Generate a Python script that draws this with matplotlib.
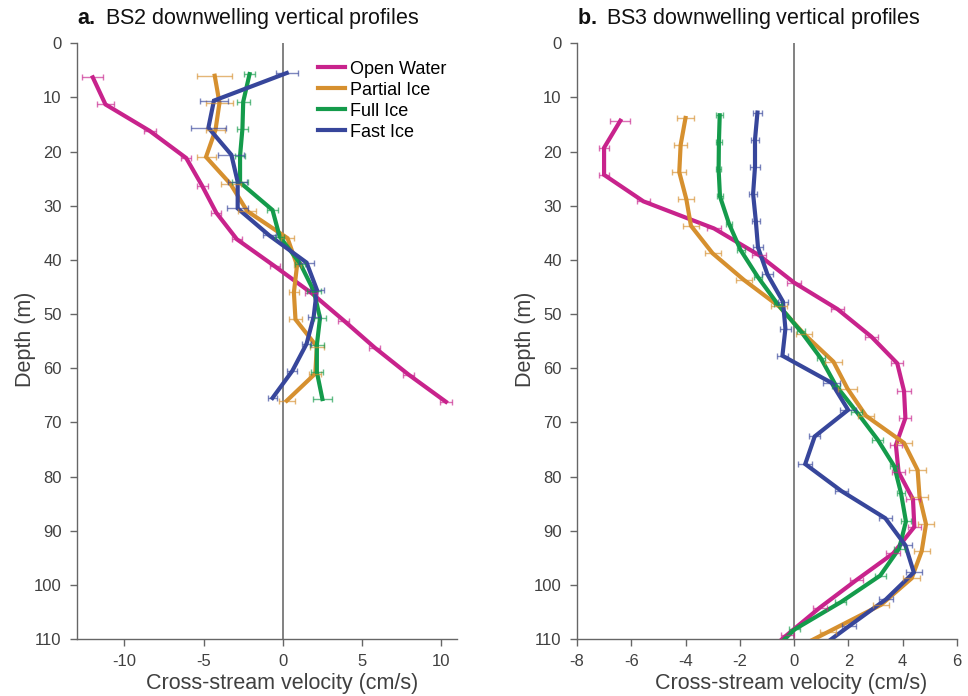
import numpy as np
import matplotlib
matplotlib.use("Agg")
import matplotlib.pyplot as plt

plt.rcParams['font.family'] = ['Liberation Sans', 'DejaVu Sans']
plt.rcParams['mathtext.fontset'] = 'custom'
plt.rcParams['mathtext.rm'] = 'Liberation Sans'
plt.rcParams['mathtext.bf'] = 'Liberation Sans:bold'
plt.rcParams['axes.unicode_minus'] = False

# Ice regimes and their colours
regimes = ["Open Water", "Partial Ice", "Full Ice", "Fast Ice"]
colors = ["#C8238C", "#D6902F", "#149B4B", "#37469B"]

# BS2 profiles: depth (m), cross-stream velocity (cm/s), error (cm/s)
bs2_depth_ow = [6.3, 11.3, 16.2, 21.2, 26.3, 31.3, 36.2, 41.2, 46.1, 51.2, 56.2, 61.2, 66.2]
bs2_depth_pi = [6.0, 11.0, 16.0, 21.0, 26.0, 31.0, 36.0, 41.0, 46.0, 51.0, 56.0, 61.0, 66.0]
bs2_depth_fi = [5.7, 10.8, 15.8, 20.8, 25.7, 30.8, 35.7, 40.7, 45.7, 50.7, 55.7, 60.7, 65.7]
bs2_depth_fa = [5.5, 10.6, 15.6, 20.6, 25.6, 30.5, 35.5, 40.5, 45.5, 50.5, 55.5, 60.5, 65.5]

bs2_vel_ow = [-12.0, -11.2, -8.4, -6.1, -5.1, -4.2, -2.9, -0.5, 1.8, 3.85, 5.8, 7.95, 10.3]
bs2_vel_pi = [-4.3, -4.0, -4.25, -4.85, -3.3, -2.25, 0.3, 0.9, 0.7, 0.8, 2.15, 2.05, 0.25]
bs2_vel_fi = [-2.1, -2.5, -2.55, -2.7, -2.7, -0.65, -0.2, 1.1, 1.95, 2.35, 2.15, 2.15, 2.5]
bs2_vel_fa = [0.25, -4.35, -4.7, -3.25, -2.85, -2.85, -0.85, 1.5, 2.15, 1.95, 1.5, 0.6, -0.65]

bs2_err_ow = [0.66, 0.52, 0.39, 0.32, 0.35, 0.32, 0.3, 0.32, 0.37, 0.35, 0.35, 0.35, 0.37]
bs2_err_pi = [1.1, 0.87, 0.63, 0.6, 0.63, 0.56, 0.4, 0.22, 0.31, 0.42, 0.44, 0.39, 0.52]
bs2_err_fi = [0.34, 0.4, 0.35, 0.33, 0.49, 0.34, 0.3, 0.3, 0.44, 0.35, 0.42, 0.4, 0.58]
bs2_err_fa = [0.68, 0.9, 1.1, 0.82, 0.61, 0.66, 0.42, 0.47, 0.44, 0.39, 0.31, 0.31, 0.31]

# BS3 profiles (last bin sits below the 110 m axis limit)
bs3_depth_ow = [14.3, 19.3, 24.3, 29.2, 34.2, 39.1, 44.2, 49.1, 54.2, 59.1, 64.2,
                69.2, 74.2, 79.2, 84.2, 89.3, 94.2, 99.1, 104.2, 109.2, 114.2]
bs3_depth_pi = [13.8, 18.8, 23.8, 28.8, 33.7, 38.8, 43.7, 48.6, 53.7, 58.8, 63.8,
                68.8, 73.8, 78.8, 83.7, 88.8, 93.8, 98.8, 103.7, 108.7, 113.7]
bs3_depth_fi = [13.3, 18.3, 23.3, 28.3, 33.3, 38.2, 43.2, 48.2, 53.2, 58.2, 63.2,
                68.1, 73.2, 78.1, 83.1, 88.3, 93.3, 98.3, 103.2, 108.2, 113.2]
bs3_depth_fa = [12.8, 17.8, 22.8, 27.8, 32.8, 37.7, 42.7, 47.7, 52.7, 57.7, 62.7,
                67.7, 72.6, 77.7, 82.7, 87.7, 92.7, 97.7, 102.7, 107.6, 112.6]

bs3_vel_ow = [-6.4, -7.0, -7.0, -5.55, -2.95, -1.3, 0.0, 1.6, 2.85, 3.8, 4.05,
              4.1, 3.75, 3.85, 4.38, 4.43, 3.65, 2.3, 0.95, -0.25, -1.4]
bs3_vel_pi = [-4.0, -4.18, -4.23, -3.97, -3.8, -3.0, -1.85, -0.55, 0.37, 1.45, 1.97,
              2.65, 4.05, 4.55, 4.62, 4.86, 4.7, 4.33, 3.2, 1.25, -0.7]
bs3_vel_fi = [-2.74, -2.77, -2.78, -2.73, -2.4, -1.97, -1.33, -0.6, 0.25, 0.99, 1.54,
              2.31, 3.08, 3.69, 3.94, 4.12, 3.87, 3.17, 1.72, 0.03, -1.0]
bs3_vel_fa = [-1.35, -1.44, -1.44, -1.51, -1.41, -1.33, -0.98, -0.41, -0.32, -0.43, 1.38,
              1.99, 0.76, 0.41, 1.75, 3.36, 4.1, 4.41, 3.38, 2.03, 0.68]

bs3_err_ow = [0.37, 0.18, 0.18, 0.25, 0.25, 0.25, 0.25, 0.25, 0.25, 0.22, 0.25,
              0.22, 0.22, 0.25, 0.25, 0.25, 0.25, 0.25, 0.25, 0.25, 0.25]
bs3_err_pi = [0.3, 0.25, 0.25, 0.3, 0.3, 0.3, 0.3, 0.3, 0.3, 0.3, 0.35,
              0.3, 0.3, 0.3, 0.3, 0.3, 0.3, 0.3, 0.3, 0.3, 0.3]
bs3_err_fi = [0.12, 0.1, 0.1, 0.1, 0.12, 0.15, 0.15, 0.15, 0.15, 0.15, 0.15,
              0.2, 0.2, 0.15, 0.15, 0.2, 0.2, 0.2, 0.2, 0.2, 0.2]
bs3_err_fa = [0.15, 0.15, 0.2, 0.15, 0.15, 0.2, 0.2, 0.2, 0.2, 0.2, 0.3,
              0.3, 0.2, 0.25, 0.25, 0.25, 0.25, 0.3, 0.25, 0.25, 0.25]

bs2 = [(bs2_depth_ow, bs2_vel_ow, bs2_err_ow), (bs2_depth_pi, bs2_vel_pi, bs2_err_pi),
       (bs2_depth_fi, bs2_vel_fi, bs2_err_fi), (bs2_depth_fa, bs2_vel_fa, bs2_err_fa)]
bs3 = [(bs3_depth_ow, bs3_vel_ow, bs3_err_ow), (bs3_depth_pi, bs3_vel_pi, bs3_err_pi),
       (bs3_depth_fi, bs3_vel_fi, bs3_err_fi), (bs3_depth_fa, bs3_vel_fa, bs3_err_fa)]

AXIS_GREY = "#666666"
TEXT_GREY = "#404040"


def draw_profiles(ax, profiles, xlim, xticks):
	ax.axvline(0, color="#777777", lw=1.3, zorder=1)
	for (depth, vel, err), name, c in zip(profiles, regimes, colors):
		ax.plot(vel, depth, color=c, lw=3.0, label=name, zorder=3, solid_joinstyle='miter')
		ax.errorbar(vel, depth, xerr=err, fmt='none', ecolor=c, elinewidth=1.0,
			capsize=2.2, capthick=1.0, alpha=0.65, zorder=4)
	ax.set_xlim(xlim)
	ax.set_ylim(110, 0)
	ax.set_xticks(xticks)
	ax.set_yticks(np.arange(0, 111, 10))
	ax.spines['top'].set_visible(False)
	ax.spines['right'].set_visible(False)
	for s in ['left', 'bottom']:
		ax.spines[s].set_color(AXIS_GREY)
		ax.spines[s].set_linewidth(1.0)
	ax.tick_params(direction='out', length=5, width=1.0, color=AXIS_GREY,
		labelcolor=TEXT_GREY, labelsize=12, pad=6)


fig = plt.figure(figsize=(9.68, 6.96), dpi=100)
axL = fig.add_axes([0.0795, 0.0819, 0.3926, 0.856])
axR = fig.add_axes([0.596, 0.0819, 0.3926, 0.856])

draw_profiles(axL, bs2, (-13, 11), [-10, -5, 0, 5, 10])
draw_profiles(axR, bs3, (-8, 6), [-8, -6, -4, -2, 0, 2, 4, 6])

leg = axL.legend(loc='upper right', bbox_to_anchor=(1.015, 0.998), frameon=False,
	fontsize=13, handlelength=1.45, handletextpad=0.3, labelspacing=0.22)
for line in leg.get_lines():
	line.set_linewidth(3.0)

# panel titles, labels
fig.text(0.0795, 0.974, r"$\mathbf{a.}$ BS2 downwelling vertical profiles", fontsize=15.5,
	ha='left', va='center', color='#111111')
fig.text(0.596, 0.974, r"$\mathbf{b.}$ BS3 downwelling vertical profiles", fontsize=15.5,
	ha='left', va='center', color='#111111')
fig.text(0.291, 0.018, "Cross-stream velocity (cm/s)", fontsize=15.5, ha='center',
	va='center', color=TEXT_GREY)
fig.text(0.817, 0.018, "Cross-stream velocity (cm/s)", fontsize=15.5, ha='center',
	va='center', color=TEXT_GREY)
fig.text(0.026, 0.513, "Depth (m)", fontsize=15.5, rotation=90, ha='center',
	va='center', color=TEXT_GREY)
fig.text(0.543, 0.513, "Depth (m)", fontsize=15.5, rotation=90, ha='center',
	va='center', color=TEXT_GREY)

fig.savefig("out.png", dpi=100)
